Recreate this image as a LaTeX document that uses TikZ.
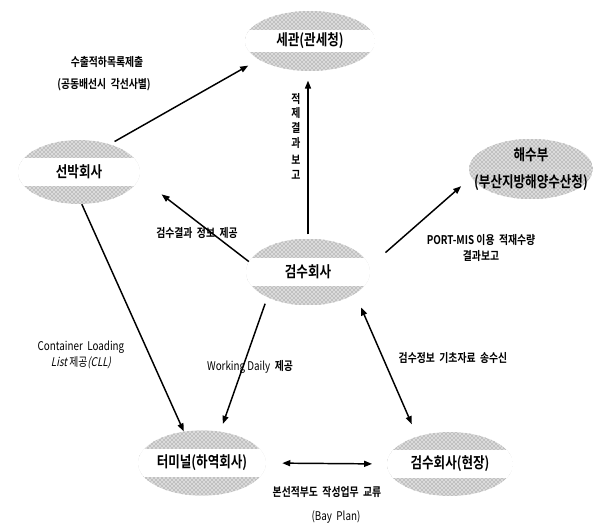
\documentclass[tikz,border=0pt]{standalone}
\usepackage{fontspec}
\setmainfont{Noto Sans CJK KR}[FakeStretch=0.82, BoldFont=Noto Sans CJK KR Bold, ItalicFont=Noto Sans CJK KR, ItalicFeatures={FakeSlant=0.2}]
\usetikzlibrary{shapes.geometric,arrows.meta,patterns}

\tikzset{
  party/.style={ellipse, inner sep=0pt, minimum width=93pt, minimum height=49pt,
    font=\bfseries\fontsize{11.5}{14}\selectfont,
    path picture={
      \fill[gray!28] (path picture bounding box.south west) rectangle (path picture bounding box.north east);
      \fill[pattern=crosshatch dots, pattern color=gray!85!black]
        (path picture bounding box.south west) rectangle (path picture bounding box.north east);
      \fill[white] ([yshift=-#1/2]path picture bounding box.west) rectangle ([yshift=#1/2]path picture bounding box.east);
    }},
  party/.default=21pt,
  lbl/.style={font=\bfseries\fontsize{9}{12}\selectfont, inner sep=1pt},
  arr/.style={-{Triangle[length=6pt,width=4.5pt]}, line width=1.1pt},
  both/.style={{Triangle[length=6pt,width=4.5pt]}-{Triangle[length=6pt,width=4.5pt]}, line width=1.1pt}
}

\begin{document}
\begin{tikzpicture}[x=0.75pt, y=-0.75pt]
    \useasboundingbox (0,0) rectangle (595,524);

    % Parties
    \node[party=16.5pt, minimum width=97.5pt, minimum height=45pt] (customs) at (310,41) {세관(관세청)};
    \node[party=0pt, minimum height=45pt, align=center] (mof) at (531,169)
        {\makebox[50pt][c]{해수부}\\[6pt]\makebox[50pt][c]{(부산지방해양수산청)}};
    \node[party, minimum width=91.5pt, minimum height=48pt] (ship) at (79,172) {선박회사};
    \node[party, minimum height=50pt] (tally) at (308,272) {검수회사};
    \node[party] (term) at (202,463) {터미널(하역회사)};
    \node[party, minimum width=94.5pt, minimum height=48pt] (site) at (450,464) {검수회사(현장)};

    % Flows
    \draw[arr, shorten <=4pt, shorten >=9pt] (ship.42) -- (customs.200);
    \draw[arr, shorten <=3pt, shorten >=7pt] (tally.north) -- (tally.north |- customs.south);
    \draw[arr, shorten >=21pt] (tally.170) -- (ship.-5);
    \draw[arr, shorten <=16pt, shorten >=10pt] (tally.5) -- (mof.188);
    \draw[arr] (ship.-85) -- (term.120);
    \draw[arr, shorten <=5pt, shorten >=6pt] (tally.-148) -- (term.60);
    \draw[both, shorten <=11pt, shorten >=10pt] (tally.-25) -- (site.140);
    \draw[both, shorten <=12pt, shorten >=11pt] (term.east) -- (site.west);

    % Labels
    \node[lbl] (exportlbl) at (107,62) {수출적하목록제출};
    \node[lbl] (jointlbl) at (104,85) {(공동배선시\ \ 각선사별)};
    \node[lbl, align=center, font=\bfseries\fontsize{9}{11}\selectfont] (reportlbl) at (296,136) {적\\제\\결\\과\\[2pt]보\\고};
    \node[lbl] (resultlbl) at (197,233) {검수결과\ \ 정보\ \ 제공};
    \node[lbl, align=center] (portlbl) at (481,248) {PORT-MIS\ 이용\ \ 적재수량\\결과보고};
    \node[lbl, align=center, font=\fontsize{9}{12}\selectfont] (clllbl) at (81,355) {Container\ \ Loading\\\textit{List} 제공\textit{(CLL)}};
    \node[lbl, font=\fontsize{9}{12}\selectfont] (dailylbl) at (250,367) {Working\ Daily\ \ \textbf{제공}};
    \node[lbl] (basislbl) at (453,358) {검수정보\ \ 기초자료\ \ 송수신};
    \node[lbl] (baylbl) at (327,492) {본선적부도\ \ 작성업무\ \ 교류};
    \node[lbl, font=\fontsize{9}{12}\selectfont] (planlbl) at (336,517) {(Bay\ \ Plan)};

\end{tikzpicture}
\end{document}
